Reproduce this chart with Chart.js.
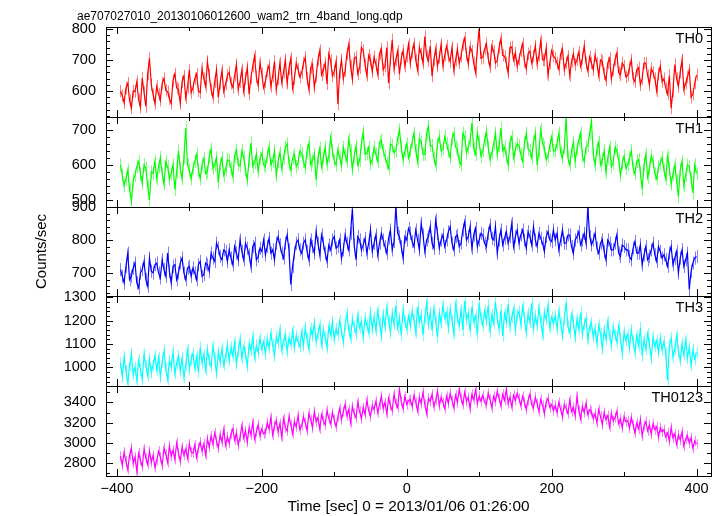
<!DOCTYPE html>
<html lang="en">
<head>
<meta charset="UTF-8" />
<title>ae707027010 WAM light curve</title>
<script src="https://cdn.jsdelivr.net/npm/chart.js"></script>
<style>
  body { margin: 0; background: #fff; }
  .chart-container { position: relative; width: 723px; height: 516px; }
</style>
</head>
<body>
<div class="chart-container">
  <canvas id="lc-chart"></canvas>
</div>
<script>
// time bins [sec], 0 = 2013/01/06 01:26:00
const times = [
  -395,-392.5,-390,-387.5,-385,-382.5,-380,-377.5,-375,-372.5,-370,-367.5,-365,-362.5,-360,-357.5,-355,-352.5,-350,-347.5,
  -345,-342.5,-340,-337.5,-335,-332.5,-330,-327.5,-325,-322.5,-320,-317.5,-315,-312.5,-310,-307.5,-305,-302.5,-300,-297.5,
  -295,-292.5,-290,-287.5,-285,-282.5,-280,-277.5,-275,-272.5,-270,-267.5,-265,-262.5,-260,-257.5,-255,-252.5,-250,-247.5,
  -245,-242.5,-240,-237.5,-235,-232.5,-230,-227.5,-225,-222.5,-220,-217.5,-215,-212.5,-210,-207.5,-205,-202.5,-200,-197.5,
  -195,-192.5,-190,-187.5,-185,-182.5,-180,-177.5,-175,-172.5,-170,-167.5,-165,-162.5,-160,-157.5,-155,-152.5,-150,-147.5,
  -145,-142.5,-140,-137.5,-135,-132.5,-130,-127.5,-125,-122.5,-120,-117.5,-115,-112.5,-110,-107.5,-105,-102.5,-100,-97.5,
  -95,-92.5,-90,-87.5,-85,-82.5,-80,-77.5,-75,-72.5,-70,-67.5,-65,-62.5,-60,-57.5,-55,-52.5,-50,-47.5,
  -45,-42.5,-40,-37.5,-35,-32.5,-30,-27.5,-25,-22.5,-20,-17.5,-15,-12.5,-10,-7.5,-5,-2.5,0,2.5,
  5,7.5,10,12.5,15,17.5,20,22.5,25,27.5,30,32.5,35,37.5,40,42.5,45,47.5,50,52.5,
  55,57.5,60,62.5,65,67.5,70,72.5,75,77.5,80,82.5,85,87.5,90,92.5,95,97.5,100,102.5,
  105,107.5,110,112.5,115,117.5,120,122.5,125,127.5,130,132.5,135,137.5,140,142.5,145,147.5,150,152.5,
  155,157.5,160,162.5,165,167.5,170,172.5,175,177.5,180,182.5,185,187.5,190,192.5,195,197.5,200,202.5,
  205,207.5,210,212.5,215,217.5,220,222.5,225,227.5,230,232.5,235,237.5,240,242.5,245,247.5,250,252.5,
  255,257.5,260,262.5,265,267.5,270,272.5,275,277.5,280,282.5,285,287.5,290,292.5,295,297.5,300,302.5,
  305,307.5,310,312.5,315,317.5,320,322.5,325,327.5,330,332.5,335,337.5,340,342.5,345,347.5,350,352.5,
  355,357.5,360,362.5,365,367.5,370,372.5,375,377.5,380,382.5,385,387.5,390,392.5,395,397.5,400
];

// counts/sec per band
const th0 = [
  600,585,562,610,625,570,545,600,598,630,572,548,642,595,550,655,705,620,588,560,
  615,590,570,625,640,602,598,575,560,635,655,610,605,560,630,648,578,612,668,595,
  610,640,655,600,595,672,640,615,695,650,605,580,630,668,580,625,665,598,622,650,
  660,625,612,650,685,605,630,668,600,640,675,590,642,680,712,645,618,690,655,610,
  630,665,682,615,648,695,605,640,690,628,660,700,625,672,705,610,640,690,670,645,
  658,690,708,640,606,675,686,612,648,700,730,652,668,690,623,720,698,648,663,695,
  558,660,700,640,665,720,750,680,638,705,710,655,675,740,730,685,650,715,700,662,
  710,685,655,720,735,668,680,740,625,700,765,672,700,728,655,705,730,680,712,750,
  690,725,752,700,668,740,720,690,775,712,698,745,648,700,735,680,708,750,682,715,
  745,712,695,740,668,700,735,690,712,750,770,718,688,742,728,690,660,735,800,705,
  708,735,752,705,678,745,728,690,698,740,768,715,712,690,658,740,742,700,722,680,
  702,730,752,695,672,720,728,690,712,745,688,715,762,700,700,738,652,690,730,712,
  705,690,670,720,735,668,690,712,650,695,720,685,700,725,680,705,745,690,665,710,
  690,668,715,690,650,700,695,655,635,690,705,640,668,700,722,660,652,690,680,645,
  650,675,700,640,630,668,675,620,640,690,690,650,620,672,660,640,600,655,680,630,
  640,610,590,650,545,600,685,640,615,660,700,605,625,645,668,580,590,625,652
];
const th1 = [
  600,570,540,560,585,530,495,555,570,595,610,575,548,600,590,540,500,580,575,610,
  560,595,620,575,545,610,595,560,575,600,530,580,640,590,560,620,705,600,585,560,
  590,610,630,585,560,600,618,575,580,625,645,590,600,620,550,600,620,570,585,615,
  612,590,567,625,642,600,597,640,622,585,557,615,662,595,607,630,582,620,632,600,
  595,625,650,600,610,640,570,610,635,590,620,650,660,605,585,620,630,595,605,640,
  632,610,592,640,662,600,612,630,557,620,647,595,622,650,602,625,677,640,612,600,
  643,620,598,650,628,610,673,640,588,625,653,600,613,660,693,630,633,650,603,615,
  650,630,610,665,670,640,625,605,590,660,655,635,640,675,700,650,615,640,660,620,
  640,665,690,640,610,675,665,630,630,690,710,655,655,620,600,660,680,640,645,680,
  660,640,620,675,690,650,645,610,600,690,680,635,650,670,720,645,630,690,665,625,
  640,670,695,650,615,635,660,690,630,655,705,640,650,625,600,665,680,620,645,660,
  655,630,610,660,690,645,640,620,665,690,600,640,700,660,650,615,625,655,680,640,
  640,660,690,635,620,650,735,620,600,640,665,610,645,670,690,625,610,650,655,690,
  725,630,600,645,665,600,615,640,580,620,650,595,605,650,640,615,570,605,625,590,
  600,620,640,590,575,610,615,580,530,600,630,565,590,625,610,575,560,595,605,620,
  585,560,625,590,545,575,600,555,510,585,610,540,570,600,595,560,520,600,575
];
const th2 = [
  710,690,670,720,760,680,690,715,730,670,655,700,710,735,680,660,745,705,700,725,
  730,700,685,740,710,690,760,705,670,720,725,680,700,730,745,700,680,715,720,690,
  715,700,680,725,735,690,695,730,725,705,760,745,735,790,775,750,740,770,765,735,
  770,745,725,780,760,740,800,765,740,790,775,755,720,780,790,740,750,775,765,800,
  755,780,805,760,770,740,790,810,785,760,745,790,815,770,665,720,760,790,800,770,
  760,790,800,765,740,800,780,760,825,790,755,815,790,760,735,785,770,800,810,775,
  780,800,745,770,815,790,770,820,895,785,740,810,800,770,785,805,760,790,830,765,
  790,815,755,790,820,800,780,760,805,830,770,795,900,820,810,780,745,810,800,835,
  820,795,780,830,800,770,850,815,765,800,810,840,790,775,860,820,775,800,815,780,
  800,825,840,790,770,810,815,780,790,830,855,800,810,840,775,815,835,780,800,820,
  815,790,780,820,845,805,800,840,760,800,830,785,805,825,790,810,850,780,810,830,
  790,815,830,800,775,825,810,785,840,800,780,820,805,790,765,810,825,800,795,830,
  800,820,770,800,830,790,790,815,815,780,760,800,810,825,785,800,820,790,900,810,
  785,800,820,775,760,790,800,765,740,800,790,770,770,790,815,760,750,785,780,770,
  770,750,740,775,795,760,760,785,725,755,780,740,750,770,790,755,735,780,765,745,
  755,740,720,760,780,725,745,765,700,745,770,720,740,760,650,705,730,745,750
];
const th3 = [
  1020,960,1045,985,935,1010,1060,970,1000,945,1030,990,950,1055,1005,965,1035,980,1010,1050,
  990,1040,960,1025,1070,995,950,1030,1005,1065,975,1020,1050,985,1040,960,1010,1075,995,1035,
  1060,1000,1045,980,1085,1020,1055,990,1075,1030,1005,1090,1040,975,1065,1025,1080,1010,1050,1095,
  1030,1085,1050,1105,1015,1070,1120,1040,1090,1060,1005,1100,1075,1130,1045,1095,1065,1125,1080,1110,
  1060,1120,1085,1145,1095,1050,1130,1105,1160,1075,1115,1140,1070,1125,1100,1155,1085,1135,1110,1090,
  1150,1095,1170,1120,1080,1165,1135,1190,1110,1145,1180,1100,1160,1130,1085,1175,1140,1195,1120,1165,
  1140,1200,1155,1110,1185,1230,1160,1125,1205,1175,1145,1220,1170,1195,1130,1210,1180,1150,1235,1165,
  1215,1160,1240,1190,1135,1225,1175,1255,1200,1150,1230,1185,1265,1170,1210,1140,1245,1195,1165,1220,
  1180,1240,1205,1150,1260,1195,1225,1140,1215,1275,1185,1235,1160,1250,1200,1130,1230,1190,1265,1210,
  1235,1170,1250,1200,1145,1270,1215,1180,1245,1160,1285,1205,1230,1155,1260,1195,1220,1140,1275,1210,
  1180,1240,1200,1265,1150,1225,1190,1280,1210,1165,1245,1135,1230,1195,1270,1175,1215,1250,1160,1225,
  1240,1185,1260,1210,1150,1230,1195,1275,1165,1220,1180,1255,1200,1140,1235,1205,1265,1170,1215,1190,
  1220,1165,1240,1190,1135,1210,1280,1175,1150,1225,1195,1130,1205,1165,1235,1145,1185,1210,1120,1175,
  1190,1130,1165,1105,1180,1145,1080,1160,1120,1195,1135,1095,1170,1140,1110,1175,1125,1060,1150,1115,
  1140,1085,1160,1110,1065,1135,1095,1170,1050,1120,1080,1145,1100,1040,1130,1090,1115,1065,1125,1075,
  1110,1060,945,1090,1125,1045,1080,1135,1070,1030,1100,1055,1115,1040,1085,1010,1075,1035,1065
];
const th0123 = [
  2870,2780,2910,2820,2740,2880,2950,2800,2860,2720,2900,2830,2770,2940,2850,2790,2920,2810,2880,2760,
  2830,2920,2860,2780,2950,2890,2810,2970,2870,2930,2840,3000,2900,2820,2960,2880,2940,2850,2990,2910,
  2900,2980,2860,2950,3010,2920,2990,2880,3040,2960,3070,2990,3100,3020,2950,3080,3010,3130,2980,3060,
  3000,3090,3140,3030,3100,2980,3060,3170,3050,3120,3010,3150,3080,3200,3040,3110,3180,3070,3140,3090,
  3100,3200,3140,3250,3080,3170,3220,3110,3190,3060,3240,3150,3120,3260,3180,3090,3210,3160,3270,3130,
  3170,3260,3200,3120,3290,3230,3150,3310,3210,3250,3140,3280,3220,3180,3320,3240,3190,3300,3230,3160,
  3260,3340,3230,3310,3380,3270,3330,3200,3360,3290,3250,3400,3310,3240,3350,3280,3420,3320,3260,3370,
  3330,3410,3300,3380,3460,3340,3400,3290,3440,3370,3320,3480,3390,3350,3530,3410,3340,3460,3380,3420,
  3430,3360,3470,3400,3320,3450,3390,3500,3380,3290,3440,3410,3480,3360,3420,3510,3370,3450,3400,3340,
  3460,3390,3490,3420,3350,3470,3400,3530,3440,3380,3500,3410,3450,3340,3480,3430,3520,3390,3460,3410,
  3470,3400,3380,3490,3430,3350,3460,3410,3510,3440,3370,3480,3420,3530,3390,3450,3360,3470,3420,3490,
  3440,3370,3460,3400,3330,3420,3480,3380,3350,3450,3390,3310,3430,3370,3290,3400,3440,3350,3380,3320,
  3370,3300,3400,3330,3260,3380,3340,3290,3420,3310,3350,3270,3460,3320,3240,3360,3300,3390,3280,3330,
  3310,3240,3290,3200,3330,3260,3180,3300,3230,3270,3160,3290,3220,3250,3310,3190,3240,3150,3260,3210,
  3220,3150,3250,3180,3100,3200,3140,3230,3070,3170,3210,3120,3180,3090,3190,3130,3160,3060,3150,3110,
  3130,3060,3100,3020,3150,3050,3090,2990,3080,3030,3110,2970,3040,3070,3000,3050,2950,3020,2990
];
// 1-sigma statistical error per bin
const bandErrors = [20, 19, 20, 26, 50];

const bandNames = ['TH0', 'TH1', 'TH2', 'TH3', 'TH0123'];
const bandValues = [th0, th1, th2, th3, th0123];
const bandColors = ['#ff0000', '#00ff00', '#0000ff', '#00ffff', '#ff00ff'];
const errColors = ['rgba(255,0,0,0.5)', 'rgba(0,255,0,0.5)', 'rgba(0,0,255,0.5)', 'rgba(0,255,255,0.55)', 'rgba(255,0,255,0.5)'];
const yMin = [517, 481, 629, 920, 2675];
const yMax = [806, 737, 901, 1304, 3560];
const yMajor = [100, 100, 100, 100, 200];
const yMinor = [20, 20, 20, 20, 100];
const xMajor = 200, xMinor = 100;

const tickFont = { family: 'Liberation Sans', size: 14.5 };

const datasets = bandValues.map((vals, i) => ({
  label: bandNames[i],
  data: times.map((t, j) => ({ x: t, y: vals[j] })),
  yAxisID: 'y' + i,
  borderColor: bandColors[i],
  borderWidth: 1.2,
  pointRadius: 0,
  tension: 0,
  fill: false
}));

const scales = {
  x: {
    type: 'linear', min: -415, max: 420,
    grid: { display: false, drawTicks: false },
    border: { display: false },
    ticks: {
      stepSize: xMinor, includeBounds: false, autoSkip: false, maxRotation: 0,
      color: '#000', font: tickFont, padding: 4,
      callback: v => (v % xMajor === 0 ? String(v).replace('-', '\u2212') : '')
    },
    title: {
      display: true, text: 'Time [sec] 0 = 2013/01/06 01:26:00', color: '#000',
      font: { family: 'Liberation Sans', size: 15.4 }, padding: { top: 0, bottom: 0 }
    },
    afterFit: s => { s.height = 40; }
  }
};
bandNames.forEach((name, i) => {
  scales['y' + i] = {
    type: 'linear', position: 'left', stack: 'panels', stackWeight: 1, weight: 5 - i,
    min: yMin[i], max: yMax[i],
    grid: { display: false, drawTicks: false },
    border: { display: false },
    ticks: {
      stepSize: yMinor[i], includeBounds: false, autoSkip: false,
      color: '#000', font: tickFont, padding: 10,
      callback: v => (v % yMajor[i] === 0 ? String(v) : '')
    },
    title: {
      display: i === 2, text: 'Counts/sec', color: '#000',
      font: { family: 'Liberation Sans', size: 15 }, padding: { top: 4, bottom: 0 }
    },
    afterFit: s => { s.width = 77; }
  };
});

// vertical error bars under each light curve
const errorBars = {
  id: 'errorBars',
  beforeDatasetsDraw(chart) {
    const { ctx, chartArea } = chart;
    const xs = chart.scales.x;
    bandValues.forEach((vals, i) => {
      const ys = chart.scales['y' + i];
      ctx.save();
      ctx.beginPath();
      ctx.rect(chartArea.left, ys.top, chartArea.right - chartArea.left, ys.bottom - ys.top);
      ctx.clip();
      ctx.strokeStyle = errColors[i];
      ctx.lineWidth = 1;
      ctx.beginPath();
      vals.forEach((v, j) => {
        const px = Math.round(xs.getPixelForValue(times[j])) + 0.5;
        ctx.moveTo(px, ys.getPixelForValue(v + bandErrors[i]));
        ctx.lineTo(px, ys.getPixelForValue(v - bandErrors[i]));
      });
      ctx.stroke();
      ctx.restore();
    });
  }
};

// frames, inward ticks on all four sides of each panel, band names and the file name
const panelFrame = {
  id: 'panelFrame',
  afterDraw(chart) {
    const { ctx, chartArea } = chart;
    const xs = chart.scales.x;
    ctx.save();
    ctx.strokeStyle = '#000';
    ctx.lineWidth = 1;
    bandNames.forEach((name, i) => {
      const ys = chart.scales['y' + i];
      const top = Math.round(ys.top), bottom = Math.round(ys.bottom);
      const left = Math.round(chartArea.left), right = Math.round(chartArea.right);
      ctx.strokeRect(left + 0.5, top + 0.5, right - left, bottom - top);
      ctx.beginPath();
      xs.ticks.forEach(t => {
        const px = Math.round(xs.getPixelForValue(t.value)) + 0.5;
        const len = t.value % xMajor === 0 ? 7 : 4;
        ctx.moveTo(px, top); ctx.lineTo(px, top + len);
        ctx.moveTo(px, bottom); ctx.lineTo(px, bottom - len);
      });
      ys.ticks.forEach(t => {
        const py = Math.round(ys.getPixelForValue(t.value)) + 0.5;
        const len = t.value % yMajor[i] === 0 ? 7 : 4;
        ctx.moveTo(left, py); ctx.lineTo(left + len, py);
        ctx.moveTo(right, py); ctx.lineTo(right - len, py);
      });
      ctx.stroke();
      ctx.fillStyle = '#000';
      ctx.font = '14.5px "Liberation Sans"';
      ctx.textAlign = 'right';
      ctx.textBaseline = 'alphabetic';
      ctx.fillText(name, right - 8, top + 16);
    });
    ctx.font = '12px "Liberation Sans"';
    ctx.textAlign = 'left';
    ctx.fillText('ae707027010_20130106012600_wam2_trn_4band_long.qdp', 77, 20);
    ctx.restore();
  }
};

new Chart(document.getElementById('lc-chart'), {
  type: 'line',
  data: { datasets },
  options: {
    responsive: true,
    maintainAspectRatio: false,
    animation: false,
    layout: { padding: { left: 29, top: 27, right: 12, bottom: 0 } },
    plugins: { legend: { display: false }, tooltip: { enabled: false } },
    scales
  },
  plugins: [errorBars, panelFrame]
});
</script>
</body>
</html>
